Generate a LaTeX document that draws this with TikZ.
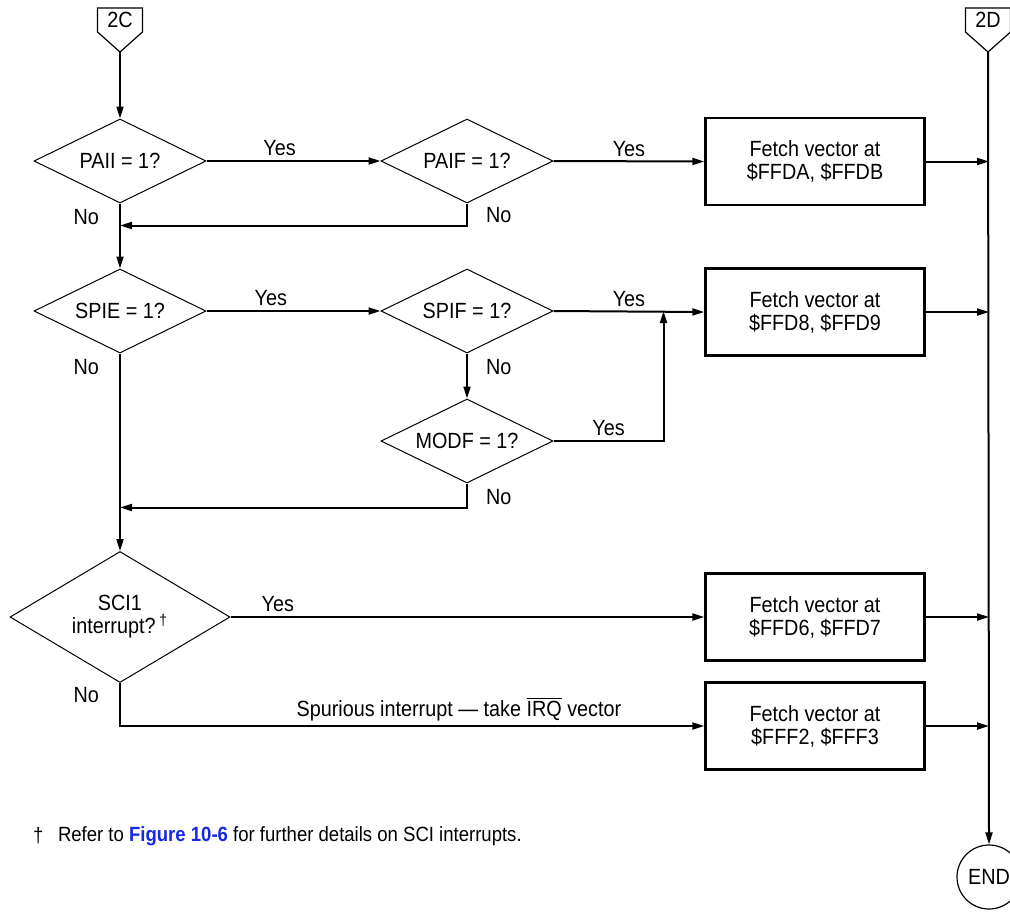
\documentclass[tikz,border=0pt]{standalone}
\usepackage{fontspec}
\setmainfont{Liberation Sans}[FakeStretch=0.9]
\usetikzlibrary{arrows.meta, positioning, shapes.geometric, calc}
\definecolor{figblue}{RGB}{20,40,230}
\def\dw{86pt}
\def\dh{42pt}
\tikzset{
    decision/.style = {
        draw, diamond, aspect=2, line width=0.5pt, minimum width=\dw, minimum height=\dh, inner sep=0pt, align=center
    },
    fetchbox/.style = {
        draw, rectangle, line width=1.2pt, minimum width=109.5pt, minimum height=43.5pt, align=center
    },
    lbl/.style = {inner sep=1pt},
    pics/offpage/.style = {
        code = {
            \draw[line width=0.6pt] (-22.5,-12) -- (22.5,-12) -- (22.5,12) -- (0,32) -- (-22.5,12) -- cycle;
            \node (-lbl) at (0,0) {#1};
            \coordinate (-tip) at (0,32);
    }}
}
\begin{document}
\begin{tikzpicture}[x=0.5pt, y=-0.5pt, font=\fontsize{11}{11.5}\selectfont, line width=1pt,
        >={Triangle[length=6pt,width=3.5pt]}]
    \useasboundingbox (0,0) rectangle (1010,911);
    % Off-page connectors and end
    \pic (p2C) at (120,20) {offpage=2C};
    \pic (p2D) at (988,20) {offpage=2D};
    \node[draw, circle, line width=0.6pt, minimum size=32pt, inner sep=0pt] (done) at (989,877) {END};
    % Decisions
    \node[decision] (paii) at (120,161) {PAII = 1?};
    \node[decision] (paif) at (467,161) {PAIF = 1?};
    \node[decision] (spie) at (120,311) {SPIE = 1?};
    \node[decision] (spif) at (467,311) {SPIF = 1?};
    \node[decision] (modf) at (467,441) {MODF = 1?};
    \node[decision, minimum width=110pt, minimum height=65.5pt] (sci) at (120,617) {SCI1\\interrupt?\,\textsuperscript{†}};
    % Vector fetches
    \node[fetchbox] (fvA) at (815,161.5) {Fetch vector at\\\$FFDA, \$FFDB};
    \node[fetchbox] (fv8) at (815,312) {Fetch vector at\\\$FFD8, \$FFD9};
    \node[fetchbox] (fv6) at (815,617) {Fetch vector at\\\$FFD6, \$FFD7};
    \node[fetchbox] (fvF) at (815,726) {Fetch vector at\\\$FFF2, \$FFF3};
    % No labels
    \node[lbl, below left=1.5pt and 9pt of paii.south] (noA) {No};
    \node[lbl, below right=0.5pt and 8pt of paif.south] (noB) {No};
    \node[lbl, below left=1.5pt and 9pt of spie.south] (noC) {No};
    \node[lbl, below right=1.5pt and 8pt of spif.south] (noD) {No};
    \node[lbl, below right=1.5pt and 8pt of modf.south] (noE) {No};
    \node[lbl, below left=0.5pt and 9pt of sci.south] (noF) {No};
    % Main flow
    \draw[->] (p2C-tip) -- (paii.north);
    \draw[->] (paii.east) -- node[lbl, above=1pt, pos=0.42]{Yes} (paif.west);
    \draw[->] (paif.east) -- node[lbl, above=1pt]{Yes} (fvA.west);
    \draw[->] (paii.south) -- (spie.north);
    \draw[->] (paif.south) -- ++(0,22) coordinate (jA) -- (jA -| paii.south);
    \draw[->] (spie.east) -- node[lbl, above=1pt, pos=0.37]{Yes} (spif.west);
    \draw[->] (spif.east) -- node[lbl, above=1pt]{Yes} (fv8.west);
    \draw[->] (spif.south) -- (modf.north);
    \draw[->] (modf.east) -- node[lbl, above=1pt]{Yes} ++(110,0) coordinate (jB) -- (jB |- spif.east);
    \draw[->] (modf.south) -- ++(0,24) coordinate (jC) -- (jC -| spie.south);
    \draw[->] (spie.south) -- (sci.north);
    \draw[->] (sci.east) -- node[lbl, above=1pt, pos=0.1]{Yes} (fv6.west);
    \draw[->] (sci.south) |- node[lbl, above=1pt, pos=0.79]{Spurious interrupt --- take $\overline{\mbox{IRQ}}$ vector} (fvF.west);
    % Bus to end
    \draw[->] (p2D-tip) -- (done.north);
    \foreach \b in {fvA, fv8, fv6, fvF}
        \draw[->] (\b.east) -- (\b.east -| done.north);
    % Footnote
    \node[lbl, anchor=west, font=\fontsize{10.3}{11}\selectfont] (dagger) at (30,836) {†};
    \node[lbl, anchor=west, font=\fontsize{10.3}{11}\selectfont] (note) at (55,836) {Refer to \textcolor{figblue}{\textbf{Figure 10-6}} for further details on SCI interrupts.};
\end{tikzpicture}
\end{document}
